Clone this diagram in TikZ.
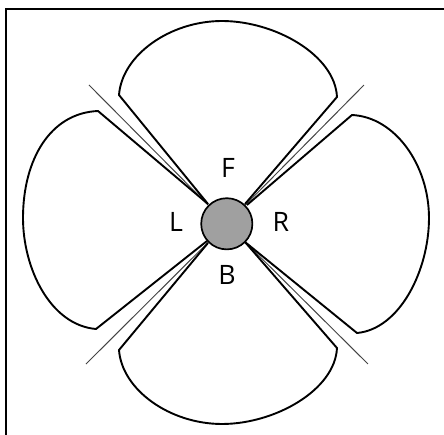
\documentclass[tikz,border=0pt]{standalone}
\usepackage{fontspec}
\setmainfont{Open Sans}
\usepackage{xcolor}
\definecolor{ink}{HTML}{000000}
\definecolor{inkgray}{HTML}{444444}
\definecolor{hubgray}{HTML}{A0A0A0}
\tikzset{
  frameline/.style={draw=ink,line width=1.8pt},
  petal/.style={draw=ink,line width=1.35pt,line join=miter},
  axisline/.style={draw=inkgray,line width=0.7pt},
  hub/.style={circle,draw=ink,fill=hubgray,line width=1.2pt,
              minimum size=1.28cm,inner sep=0pt},
  dirlabel/.style={inner sep=0pt,font=\fontsize{19}{22}\selectfont}
}
\begin{document}
\begin{tikzpicture}[x=1cm,y=1cm]
    \path[use as bounding box] (-5.65,-5.30) rectangle (5.45,5.575);

    \draw[frameline] (-5.50,-5.30) -- (-5.50,5.35) -- (5.45,5.35);

    \node[hub] (hub) at (0.02,-0.02) {};

    \node[dirlabel] (labelF) at (0.05,1.375) {F};
    \node[dirlabel] (labelL) at (-1.25,0.025) {L};
    \node[dirlabel] (labelR) at (1.375,0.025) {R};
    \node[dirlabel] (labelB) at (0.025,-1.30) {B};

    % thin lines between the lobes
    \coordinate (tipFL) at (-3.425,3.45);
    \coordinate (tipFR) at (3.45,3.45);
    \coordinate (tipBL) at (-3.50,-3.525);
    \coordinate (tipBR) at (3.55,-3.525);
    \draw[axisline] (hub) -- (tipFL);
    \draw[axisline] (hub) -- (tipFR);
    \draw[axisline] (hub) -- (tipBL);
    \draw[axisline] (hub) -- (tipBR);

    % lobes
    \draw[petal] (-0.45,0.475) -- (-2.675,3.20)
      .. controls (-2.60,4.20) and (-1.40,5.05) .. (-0.10,5.05)
      .. controls (1.225,5.05) and (2.725,4.20) .. (2.775,3.15)
      -- (0.475,0.475);
    \draw[petal] (-0.45,0.475) -- (-3.20,2.80)
      .. controls (-4.40,2.75) and (-5.075,1.575) .. (-5.075,0.125)
      .. controls (-5.075,-1.125) and (-4.40,-2.55) .. (-3.25,-2.65)
      -- (-0.475,-0.45);
    \draw[petal] (0.525,0.45) -- (3.15,2.70)
      .. controls (4.225,2.65) and (5.075,1.45) .. (5.075,0.125)
      .. controls (5.075,-1.175) and (4.35,-2.65) .. (3.275,-2.75)
      -- (0.475,-0.475);
    \draw[petal] (-0.45,-0.50) -- (-2.675,-3.175)
      .. controls (-2.60,-4.175) and (-1.40,-5.025) .. (-0.10,-5.025)
      .. controls (1.225,-5.025) and (2.725,-4.175) .. (2.775,-3.125)
      -- (0.475,-0.475);
  \end{tikzpicture}
\end{document}
